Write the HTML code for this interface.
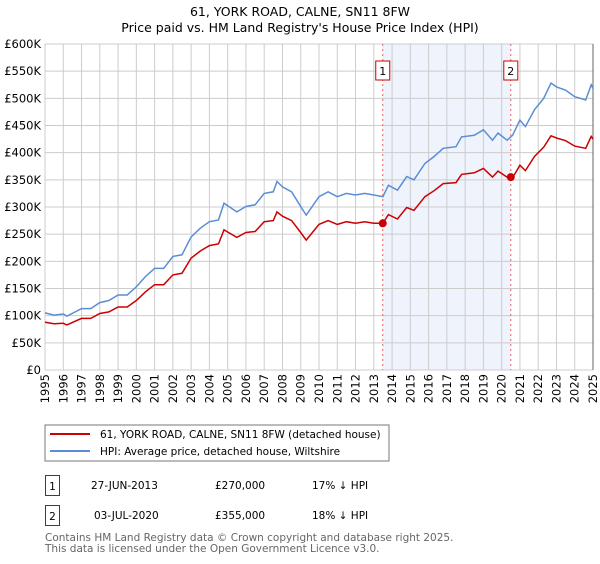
<!DOCTYPE html>
<html><head><meta charset="utf-8"><style>
body{margin:0;background:#fff;font-family:"DejaVu Sans","Liberation Sans",sans-serif;}
svg text{font-family:"DejaVu Sans","Liberation Sans",sans-serif;}
</style></head><body>
<svg id="c" width="600" height="560" xmlns="http://www.w3.org/2000/svg">
<text x="300" y="16" text-anchor="middle" font-size="12.5" fill="#000">61, YORK ROAD, CALNE, SN11 8FW</text>
<text x="300" y="32" text-anchor="middle" font-size="12.5" fill="#000">Price paid vs. HM Land Registry's House Price Index (HPI)</text>
<g id="plot"></g>
<rect x="45" y="425" width="344" height="36" fill="#fff" stroke="#777"/>
<line x1="50" y1="434" x2="90" y2="434" stroke="#cc0000" stroke-width="2"/>
<text x="100" y="438" font-size="10.5">61, YORK ROAD, CALNE, SN11 8FW (detached house)</text>
<line x1="50" y1="451" x2="90" y2="451" stroke="#5b8dd6" stroke-width="2"/>
<text x="100" y="455" font-size="10.5">HPI: Average price, detached house, Wiltshire</text>
<g font-size="10.5">
<rect x="45.5" y="475.5" width="14" height="20" fill="none" stroke="#cc0000"/>
<text x="52.5" y="490" text-anchor="middle">1</text>
<text x="91" y="489">27-JUN-2013</text>
<text x="215" y="489">£270,000</text>
<text x="312" y="489">17% ↓ HPI</text>
<rect x="45.5" y="505.5" width="14" height="20" fill="none" stroke="#cc0000"/>
<text x="52.5" y="520" text-anchor="middle">2</text>
<text x="94" y="519">03-JUL-2020</text>
<text x="215" y="519">£355,000</text>
<text x="312" y="519">18% ↓ HPI</text>
</g>
<text x="45" y="541" font-size="10.5" fill="#666">Contains HM Land Registry data © Crown copyright and database right 2025.</text>
<text x="45" y="552" font-size="10.5" fill="#666">This data is licensed under the Open Government Licence v3.0.</text>
</svg>
<script>
const years=[1995.0,1995.5,1996.0,1996.2,1997.0,1997.5,1998.0,1998.5,1999.0,1999.5,2000.0,2000.5,2001.0,2001.5,2002.0,2002.5,2003.0,2003.5,2004.0,2004.5,2004.8,2005.5,2006.0,2006.5,2007.0,2007.5,2007.7,2008.0,2008.5,2009.0,2009.3,2010.0,2010.5,2011.0,2011.5,2012.0,2012.5,2013.0,2013.5,2013.8,2014.3,2014.8,2015.2,2015.8,2016.3,2016.8,2017.5,2017.8,2018.5,2019.0,2019.5,2019.8,2020.3,2020.6,2021.0,2021.3,2021.8,2022.3,2022.7,2023.0,2023.5,2024.0,2024.6,2024.9,2025.0];
const hpi=[105,101,103,99,113,113,124,128,138,138,153,172,187,187,209,212,245,261,273,276,307,291,301,304,325,328,347,337,328,301,285,319,328,319,325,322,325,322,319,340,331,356,350,380,393,408,411,429,432,442,423,436,423,432,460,448,479,500,528,521,515,503,497,525,518];
const price=[88,85,86,83,95,95,104,107,116,116,128,144,157,157,175,178,206,219,229,232,258,244,253,255,273,275,291,283,275,253,239,268,275,268,273,270,273,270,270,286,278,299,294,319,330,343,345,360,363,371,355,366,355,354,377,367,393,410,431,427,422,412,408,430,425];
const yTicks=[0,50,100,150,200,250,300,350,400,450,500,550,600];
const yLabels=["£0","£50K","£100K","£150K","£200K","£250K","£300K","£350K","£400K","£450K","£500K","£550K","£600K"];
const xTicks=[1995,1996,1997,1998,1999,2000,2001,2002,2003,2004,2005,2006,2007,2008,2009,2010,2011,2012,2013,2014,2015,2016,2017,2018,2019,2020,2021,2022,2023,2024,2025];
const saleYears=[2013.49,2020.5];
const salePrices=[270,355];
const x0=45,x1=593,yTop=44,yBot=370;
const X=v=>x0+(v-1995)/30*(x1-x0);
const Y=v=>yBot-v/600*(yBot-yTop);
const NS="http://www.w3.org/2000/svg";
const g=document.getElementById('plot');
function mk(t,a){const e=document.createElementNS(NS,t);for(const k in a)e.setAttribute(k,a[k]);g.appendChild(e);return e;}
let sh=mk('rect',{x:X(saleYears[0]),y:yTop,width:X(saleYears[1])-X(saleYears[0]),height:yBot-yTop,fill:'#eef3fc'});


yTicks.forEach((v,i)=>{
 let l=mk('line',{x1:x0,x2:x1,y1:Y(v),y2:Y(v),stroke:'#ccc'});
 
 
 let t=mk('text',{x:x0-4,y:Y(v)+4,'text-anchor':'end','font-size':'11.5',fill:'#000'});
 t.textContent=yLabels[i];
 
 
});
xTicks.forEach(v=>{
 let l=mk('line',{x1:X(v),x2:X(v),y1:yTop,y2:yBot,stroke:'#ccc'});
 
 
 let t=mk('text',{x:0,y:0,'text-anchor':'end','font-size':'11.5',fill:'#000',transform:`translate(${X(v)+4},${yBot+4}) rotate(-90)`});
 t.textContent=v;
 
 
});
let ax=mk('line',{x1:x1,x2:x1,y1:yTop,y2:yBot,stroke:'#666'});


saleYears.forEach((v,i)=>{
 let l=mk('line',{x1:X(v),x2:X(v),y1:yTop,y2:yBot,stroke:'#f06060','stroke-dasharray':'2,3'});
 
 
 let b=mk('rect',{x:X(v)-7,y:61,width:14,height:19,fill:'#fff',stroke:'#cc0000'});
 
 
 let t=mk('text',{x:X(v),y:75,'text-anchor':'middle','font-size':'11'});
 t.textContent=String(i+1);
 
 
});
const pts=a=>years.map((y,i)=>X(y).toFixed(1)+','+Y(a[i]).toFixed(1)).join(' ');
let h=mk('polyline',{points:pts(hpi),fill:'none',stroke:'#5b8dd6','stroke-width':1.5});


let p=mk('polyline',{points:pts(price),fill:'none',stroke:'#cc0000','stroke-width':1.5});


saleYears.forEach((v,i)=>{
 let c=mk('circle',{cx:X(v),cy:Y(salePrices[i]),r:4,fill:'#cc0000'});
 
 
});
</script>
</body></html>
